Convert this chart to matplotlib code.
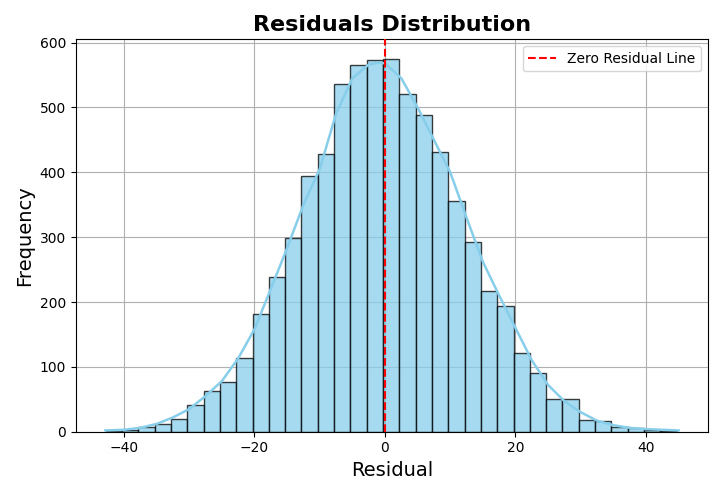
import matplotlib.pyplot as plt
import numpy as np

# histogram bins
bin_start = -42.8
bin_width = 2.5
counts = [1, 3, 8, 12, 20, 41, 63, 77, 113, 181, 238, 299, 394, 428, 536, 566, 573,
          574, 520, 489, 432, 356, 292, 217, 194, 122, 90, 50, 50, 18, 17, 8, 5, 2, 1]

# kde curve points
kde_x = [-42.85, -40, -37.5, -35, -32.5, -30, -27.5, -25, -22.5, -20, -17.5, -15, -12.5,
         -10, -7.5, -5, -2.5, -1, 0, 2.5, 5, 7.5, 10, 12.5, 15, 17.5, 20, 22.5, 25,
         27.5, 30, 32.5, 35, 37.5, 40, 45]
kde_y = [2, 3, 6, 12, 22, 35, 55, 78, 113, 158, 220, 283, 350, 405, 490, 545, 566, 569,
         568, 545, 500, 450, 400, 330, 262, 210, 160, 110, 72, 47, 30, 17, 10, 6, 4, 2]

edges = bin_start + bin_width * np.arange(len(counts) + 1)

fig, ax = plt.subplots(figsize=(7.23, 4.95), dpi=100)
ax.bar(edges[:-1], counts, width=bin_width, align='edge', color='skyblue',
       alpha=0.75, edgecolor='black', linewidth=1, zorder=2)
ax.plot(kde_x, kde_y, color='skyblue', linewidth=1.8, zorder=3)
ax.axvline(0, color='red', linestyle='--', linewidth=1.5, label='Zero Residual Line', zorder=4)
ax.set_title('Residuals Distribution', fontsize=16, fontweight='bold')
ax.set_xlabel('Residual', fontsize=14)
ax.set_ylabel('Frequency', fontsize=14)
ax.set_xlim(-47.4, 49.5)
ax.set_ylim(0, 605)
ax.grid(True, zorder=0)
ax.set_axisbelow(True)
ax.legend(loc='upper right')
fig.tight_layout()
fig.savefig('out.png')
